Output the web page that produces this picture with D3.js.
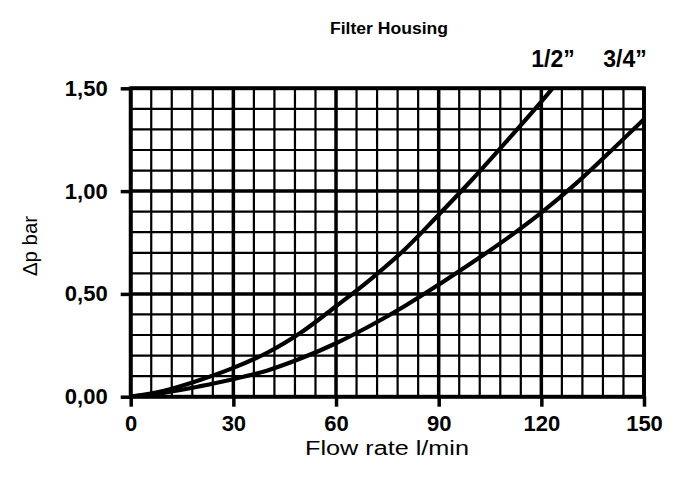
<!DOCTYPE html>
<html><head><meta charset="utf-8">
<script src="https://cdn.jsdelivr.net/npm/d3@7"></script>
<style>body{margin:0;background:#fff}svg{display:block}</style>
</head><body>
<script>
const xTicks = [0, 30, 60, 90, 120, 150];
const yTicks = [0, 0.5, 1.0, 1.5];
const yTickLabels = ["0,00", "0,50", "1,00", "1,50"];
const halfX = [0, 10, 20, 30, 40, 50, 60, 70, 80, 90, 100, 110, 120, 124];
const halfY = [0, 0.03, 0.08, 0.14, 0.215, 0.315, 0.44, 0.57, 0.715, 0.885, 1.06, 1.245, 1.435, 1.515];
const threeX = [0, 10, 20, 30, 40, 50, 60, 70, 80, 90, 100, 110, 120, 130, 140, 150];
const threeY = [0, 0.02, 0.05, 0.085, 0.128, 0.188, 0.26, 0.345, 0.44, 0.545, 0.655, 0.77, 0.895, 1.035, 1.19, 1.35];
const seriesLabels = ["1/2\u201D", "3/4\u201D"];

const W = 677, H = 479;
const svg = d3.select("body").append("svg").attr("width", W).attr("height", H);
const x = d3.scaleLinear().domain([0,150]).range([130.7,644]);
const y = d3.scaleLinear().domain([0,1.5]).range([396.7,88.3]);
const sans = "'Liberation Sans', Arial, sans-serif";

// grid
const minorX = d3.range(0,151,6), minorY = d3.range(0,16).map(d=>d/10);
svg.append("g").selectAll("line").data(minorX).join("line")
  .attr("x1",d=>x(d)).attr("x2",d=>x(d)).attr("y1",y(0)).attr("y2",y(1.5))
  .attr("stroke","#000").attr("stroke-width",d=>d%30===0?3.5:2.2);
svg.append("g").selectAll("line").data(minorY).join("line")
  .attr("x1",x(0)).attr("x2",x(150)).attr("y1",d=>y(d)).attr("y2",d=>y(d))
  .attr("stroke","#000").attr("stroke-width",d=>Math.round(d*10)%5===0?3.5:2.2);

// axes
const xAxis = svg.append("g").attr("transform",`translate(0,${y(0)})`)
  .call(d3.axisBottom(x).tickValues(xTicks).tickSize(10).tickPadding(9).tickFormat(d3.format("d")));
const yAxis = svg.append("g").attr("transform",`translate(${x(0)},0)`)
  .call(d3.axisLeft(y).tickValues(yTicks).tickSize(10).tickPadding(13).tickFormat((d,i)=>yTickLabels[i]));
[xAxis,yAxis].forEach(a=>{
  a.select(".domain").remove();
  a.selectAll(".tick line").attr("stroke","#000").attr("stroke-width",3.5);
  a.selectAll(".tick text").attr("fill","#000").style("font-family",sans)
   .style("font-weight","bold").style("font-size","22px");
});
// border
svg.append("rect").attr("x",x(0)).attr("y",y(1.5)).attr("width",x(150)-x(0)).attr("height",y(0)-y(1.5))
  .attr("fill","none").attr("stroke","#000").attr("stroke-width",3.8);

// curves
svg.append("clipPath").attr("id","c").append("rect")
  .attr("x",x(0)).attr("y",y(1.5)-1).attr("width",x(150)-x(0)+1).attr("height",y(0)-y(1.5)+2);
const line = d3.line().x(d=>x(d[0])).y(d=>y(d[1])).curve(d3.curveCatmullRom);
[[halfX,halfY],[threeX,threeY]].forEach(([xs,ys])=>{
  svg.append("path").attr("d",line(xs.map((v,i)=>[v,ys[i]])))
    .attr("fill","none").attr("stroke","#000").attr("stroke-width",4.2).attr("clip-path","url(#c)");
});

// labels
svg.append("text").attr("x",389).attr("y",34).attr("text-anchor","middle")
  .attr("textLength",118).attr("lengthAdjust","spacingAndGlyphs")
  .style("font-family",sans).style("font-weight","900").style("font-size","16px")
  .text("Filter Housing");
svg.selectAll(".sl").data(seriesLabels).join("text")
  .attr("x",(d,i)=>[553,625][i]).attr("y",67).attr("text-anchor","middle")
  .style("font-family",sans).style("font-weight","bold").style("font-size","23px").text(d=>d);
svg.append("text").attr("x",387).attr("y",455).attr("text-anchor","middle")
  .attr("textLength",164).attr("lengthAdjust","spacingAndGlyphs")
  .style("font-family",sans).style("font-size","20px").text("Flow rate l/min");
svg.append("text").attr("transform","translate(37,246) rotate(-90)").attr("text-anchor","middle")
  .attr("textLength",60).attr("lengthAdjust","spacingAndGlyphs")
  .style("font-family",sans).style("font-size","21px").text("\u0394p bar");
</script>
</body></html>
